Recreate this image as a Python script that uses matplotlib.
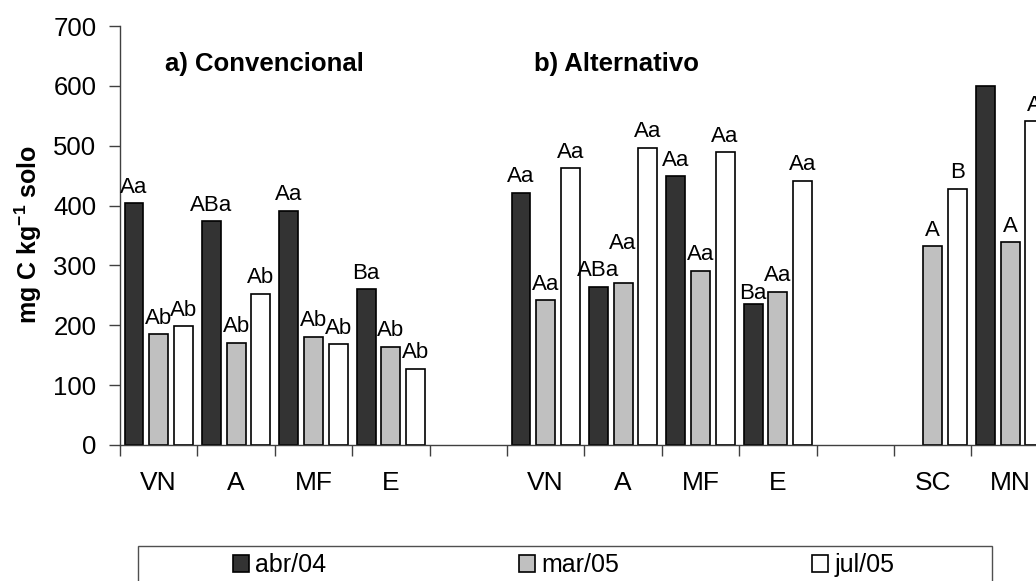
import numpy as np
import matplotlib
matplotlib.use("Agg")
import matplotlib.pyplot as plt
from matplotlib.patches import Patch, Rectangle

plt.rcParams['font.family'] = ['Liberation Sans', 'DejaVu Sans']
plt.rcParams['mathtext.fontset'] = 'custom'
plt.rcParams['mathtext.rm'] = 'Liberation Sans'
plt.rcParams['mathtext.bf'] = 'Liberation Sans:bold'

# categories (blank entries are the gaps between the groups)
cats = ['VN', 'A', 'MF', 'E', '', 'VN', 'A', 'MF', 'E', '', 'SC', 'MN']

abr04 = [404, 374, 391, 260, np.nan, 421, 264, 449, 236, np.nan, np.nan, 600]
mar05 = [185, 171, 181, 164, np.nan, 242, 270, 291, 256, np.nan, 332, 339]
jul05 = [198, 253, 168, 127, np.nan, 462, 497, 489, 441, np.nan, 428, 541]

lab_abr = ['Aa', 'ABa', 'Aa', 'Ba', '', 'Aa', 'ABa', 'Aa', 'Ba', '', '', '']
lab_mar = ['Ab', 'Ab', 'Ab', 'Ab', '', 'Aa', 'Aa', 'Aa', 'Aa', '', 'A', 'A']
lab_jul = ['Ab', 'Ab', 'Ab', 'Ab', '', 'Aa', 'Aa', 'Aa', 'Aa', '', 'B', 'A']

series = [('abr/04', abr04, lab_abr, '#333333'),
          ('mar/05', mar05, lab_mar, '#c0c0c0'),
          ('jul/05', jul05, lab_jul, '#ffffff')]

# extra vertical nudge (points) for a few labels that sit off the bar
nudge = {(1, 6): 17, (0, 8): -4}

fig = plt.figure(figsize=(10.36, 5.81), dpi=100)
W, H = 1036, 581
cat_px = 77.4
ncat_view = 12.5
ax = fig.add_axes([120 / W, 1 - 445 / H, ncat_view * cat_px / W, (445 - 26) / H])

x = np.arange(len(cats)) + 0.5
width = 0.243
step = 0.318

for k, (name, vals, labs, col) in enumerate(series):
    pos = x + (k - 1) * step
    ax.bar(pos, vals, width=width, color=col, edgecolor='black', linewidth=1.2,
           label=name, zorder=2)
    for i, (xv, v, t) in enumerate(zip(pos, vals, labs)):
        if t and not np.isnan(v):
            ax.annotate(t, (xv, v), xytext=(0, 4 + nudge.get((k, i), 0)),
                        textcoords='offset points', ha='center', va='bottom',
                        fontsize=16, clip_on=False)

ax.set_xlim(0, ncat_view)
ax.set_ylim(0, 700)
ax.set_yticks(range(0, 701, 100))
ax.set_xticks(np.arange(0, 13))
ax.set_xticklabels([])
ax.set_xticks(x, minor=True)
ax.set_xticklabels(cats, minor=True)
ax.tick_params(axis='x', which='minor', length=0, pad=19, labelsize=19)
ax.tick_params(axis='x', which='major', length=8, width=1, color='#404040')
ax.tick_params(axis='y', length=8, width=1, color='#404040', pad=9, labelsize=18.5)

for s in ['top', 'right']:
    ax.spines[s].set_visible(False)
for s in ['left', 'bottom']:
    ax.spines[s].set_color('#404040')
    ax.spines[s].set_linewidth(1)

fig.text(28 / W, 1 - 235 / H, r'mg C kg$^{\mathbf{-1}}$ solo', rotation=90,
         ha='center', va='center', fontsize=18, fontweight='bold')
fig.text(165 / W, 1 - 64 / H, 'a) Convencional', ha='left', va='center',
         fontsize=18.5, fontweight='bold')
fig.text(534 / W, 1 - 64 / H, 'b) Alternativo', ha='left', va='center',
         fontsize=18.5, fontweight='bold')

handles = [Patch(facecolor=c, edgecolor='black', linewidth=1.2, label=n)
           for n, _, _, c in series]
fig.legend(handles=handles, loc='center left',
           bbox_to_anchor=(233 / W, 1 - 565 / H), ncol=3, frameon=False,
           fontsize=18, handlelength=0.65, handleheight=0.65,
           handletextpad=0.25, columnspacing=7.7, borderpad=0, borderaxespad=0)
fig.patches.append(Rectangle((138 / W, -0.05), (992 - 138) / W, 0.05 + (1 - 546 / H),
                             transform=fig.transFigure, fill=False,
                             edgecolor='#505050', linewidth=1))

fig.savefig('out.png', dpi=100)
